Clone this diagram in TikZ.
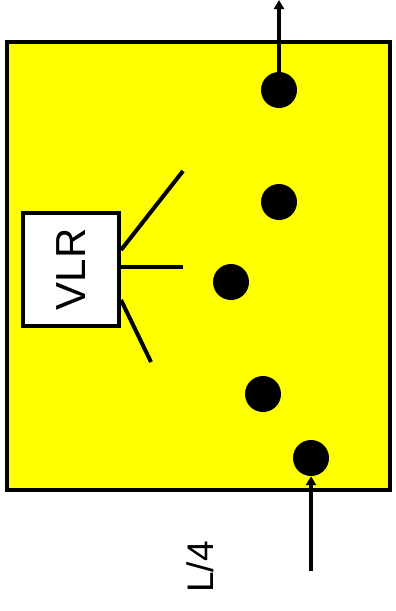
\documentclass[tikz,border=0pt]{standalone}
\usepackage{fontspec}
\setmainfont{Liberation Sans}
\usetikzlibrary{arrows.meta, positioning, calc}
\definecolor{panelyellow}{RGB}{255,255,0}
\tikzset{
  panel/.style={rectangle, draw=black, fill=panelyellow, line width=4pt,
    minimum width=383pt, minimum height=448pt, inner sep=0pt},
  vlrbox/.style={rectangle, draw=black, fill=white, line width=4pt,
    minimum width=113pt, minimum height=96pt, inner sep=0pt,
    font=\fontsize{42}{48}\selectfont, rotate=90},
  dot/.style={circle, fill=black, minimum size=36pt, inner sep=0pt},
  arrow/.style={-{Triangle[length=9pt, width=10pt]}, line width=4pt},
  line/.style={line width=4pt}
}
\begin{document}
\begin{tikzpicture}[x=1pt, y=-1pt]
  \useasboundingbox (0,0) rectangle (396,611);
  \node[panel] (panel) at (198.5,266) {};
  % dots
  \node[dot] (d1) at (279,90) {};
  \node[dot] (d2) at (279,202) {};
  \node[dot] (d3) at (231,282) {};
  \node[dot] (d4) at (263,394) {};
  \node[dot] (d5) at (311,458) {};
  % VLR box and its three lines
  \node[vlrbox] (vlr) at (71,269.5) {VLR};
  \coordinate (l1) at (183,171);
  \coordinate (l2) at (183,267);
  \coordinate (l3) at (151,362);
  \draw[line] ([yshift=19.5pt]vlr.south) -- (l1);
  \draw[line] ([yshift=2.5pt]vlr.south) -- (l2);
  \draw[line] ([yshift=-30.5pt]vlr.south) -- (l3);
  % in and out
  \coordinate (out) at (279,0);
  \coordinate (in) at (311,571);
  \draw[arrow] (d1) -- (out);
  \draw[arrow] (in) -- (d5);
  \node[rotate=90, font=\fontsize{37}{42}\selectfont] (len) at (200,567) {L/4};
\end{tikzpicture}
\end{document}
